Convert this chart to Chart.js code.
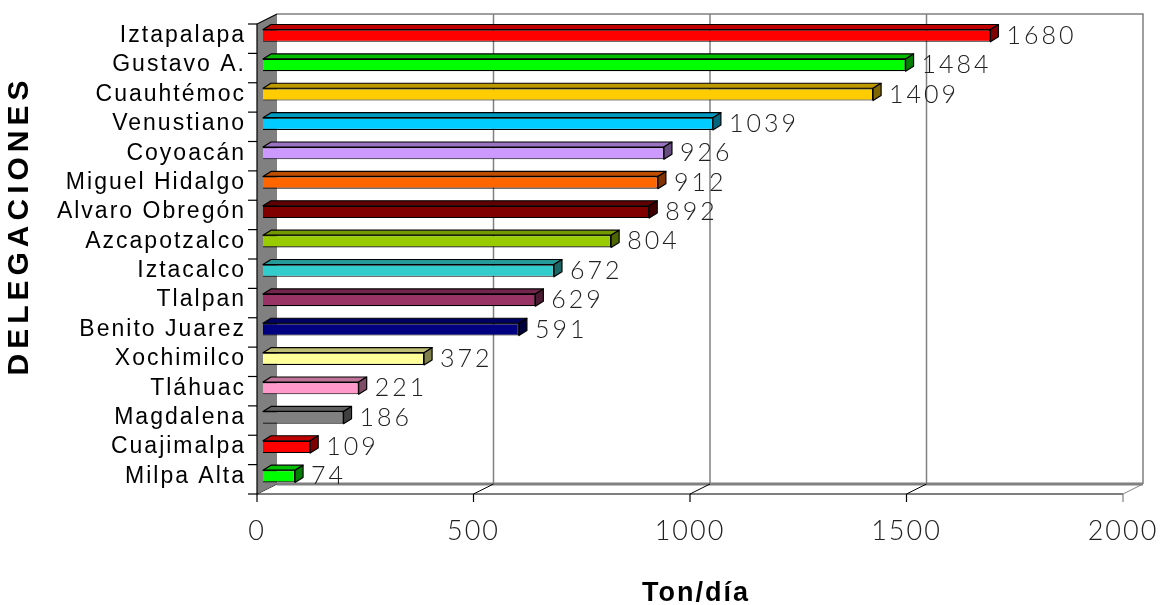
<!DOCTYPE html>
<html>
<head>
<meta charset="utf-8">
<script src="https://cdn.jsdelivr.net/npm/chart.js@4.4.1/dist/chart.umd.min.js"></script>
<style>
html,body{margin:0;padding:0;background:#fff;}
#wrap{width:1165px;height:605px;position:relative;}
</style>
</head>
<body>
<div id="wrap"><canvas id="c"></canvas></div>
<script>
const categories = ['Iztapalapa','Gustavo A.','Cuauhtémoc','Venustiano','Coyoacán','Miguel Hidalgo','Alvaro Obregón','Azcapotzalco','Iztacalco','Tlalpan','Benito Juarez','Xochimilco','Tláhuac','Magdalena','Cuajimalpa','Milpa Alta'];
const values = [1680,1484,1409,1039,926,912,892,804,672,629,591,372,221,186,109,74];
const barColors = ['#FF0000','#00FF00','#FFCC00','#00CCFF','#CC99FF','#FF6600','#800000','#99CC00','#33CCCC','#993366','#000080','#FFFF99','#FF99CC','#808080','#FF0000','#00FF00'];
const xTicks = [0,500,1000,1500,2000];
const xTitle = 'Ton/día';
const yTitle = 'DELEGACIONES';

function shade(hex, f){
  const n = parseInt(hex.slice(1),16);
  const r = Math.round(((n>>16)&255)*f), g = Math.round(((n>>8)&255)*f), b = Math.round((n&255)*f);
  return 'rgb('+r+','+g+','+b+')';
}

const BK = {dx:14, dy:-7};   // back plane offset
const FR = {dx:-6, dy:3};    // front plane offset
const D3 = {dx:8, dy:-5};    // bar depth

const spacingPlugin = {
  id:'spacing',
  beforeDraw(chart){ chart.ctx.letterSpacing = '2px'; }
};

const wallsPlugin = {
  id:'walls',
  beforeDatasetsDraw(chart){
    const ctx = chart.ctx, xs = chart.scales.x, ca = chart.chartArea;
    const top = ca.top, bot = ca.bottom;
    const X = v => xs.getPixelForValue(v);
    const x0 = X(xTicks[0]), xN = X(xTicks[xTicks.length-1]);
    ctx.save();
    ctx.letterSpacing = '0px';
    ctx.strokeStyle = '#808080';
    ctx.lineWidth = 1.5;
    xTicks.slice(1, -1).forEach(v => {
      ctx.beginPath();
      ctx.moveTo(X(v)+BK.dx, top+BK.dy);
      ctx.lineTo(X(v)+BK.dx, bot+BK.dy);
      ctx.stroke();
    });
    ctx.beginPath();
    ctx.moveTo(x0+BK.dx, top+BK.dy);
    ctx.lineTo(xN+BK.dx, top+BK.dy);
    ctx.lineTo(xN+BK.dx, bot+BK.dy);
    ctx.stroke();
    ctx.lineWidth = 3;
    ctx.beginPath();
    ctx.moveTo(x0+BK.dx, bot+BK.dy);
    ctx.lineTo(xN+BK.dx, bot+BK.dy);
    ctx.stroke();
    ctx.lineWidth = 1;
    xTicks.forEach((v,i) => {
      ctx.strokeStyle = i === xTicks.length-1 ? '#808080' : '#000';
      ctx.beginPath();
      ctx.moveTo(X(v)+FR.dx, bot+FR.dy);
      ctx.lineTo(X(v)+BK.dx, bot+BK.dy);
      ctx.stroke();
    });
    ctx.fillStyle = '#808080';
    ctx.beginPath();
    ctx.moveTo(x0+FR.dx, top+FR.dy);
    ctx.lineTo(x0+BK.dx, top+BK.dy);
    ctx.lineTo(x0+BK.dx, bot+BK.dy);
    ctx.lineTo(x0+FR.dx, bot+FR.dy);
    ctx.closePath();
    ctx.fill();
    ctx.strokeStyle = '#000';
    ctx.lineWidth = 1.2;
    ctx.beginPath();
    ctx.moveTo(x0+BK.dx, top+BK.dy);
    ctx.lineTo(x0+FR.dx, top+FR.dy);
    ctx.lineTo(x0+FR.dx, bot+FR.dy);
    ctx.lineTo(xN+FR.dx, bot+FR.dy);
    ctx.stroke();
    xTicks.forEach((v,i) => {
      ctx.strokeStyle = i === xTicks.length-1 ? '#808080' : '#000';
      ctx.beginPath();
      ctx.moveTo(X(v)+FR.dx, bot+FR.dy);
      ctx.lineTo(X(v)+FR.dx, bot+FR.dy+8);
      ctx.stroke();
    });
    ctx.strokeStyle = '#000';
    const band = (bot-top)/categories.length;
    for (let k = 0; k <= categories.length; k++){
      const y = top + k*band + FR.dy;
      ctx.beginPath();
      ctx.moveTo(x0+FR.dx-9, y);
      ctx.lineTo(x0+FR.dx, y);
      ctx.stroke();
    }
    ctx.save();
    ctx.translate(20, 228);
    ctx.rotate(-Math.PI/2);
    ctx.font = 'bold 30px "Liberation Sans", Arial, sans-serif';
    ctx.letterSpacing = '5px';
    ctx.fillStyle = '#000';
    ctx.textAlign = 'center';
    ctx.textBaseline = 'middle';
    ctx.fillText(yTitle, 2.5, 0);
    ctx.restore();
    ctx.restore();
  },
  afterDatasetsDraw(chart){
    const ctx = chart.ctx;
    const meta = chart.getDatasetMeta(0);
    ctx.save();
    ctx.lineWidth = 1.2;
    ctx.strokeStyle = '#000';
    ctx.lineJoin = 'round';
    meta.data.forEach((el, i) => {
      const p = el.getProps(['x','y','base','height'], true);
      const yT = p.y - p.height/2, yB = p.y + p.height/2;
      const c = barColors[i];
      ctx.fillStyle = shade(c, 0.75);
      ctx.beginPath();
      ctx.moveTo(p.base, yT);
      ctx.lineTo(p.x, yT);
      ctx.lineTo(p.x+D3.dx, yT+D3.dy);
      ctx.lineTo(p.base+D3.dx, yT+D3.dy);
      ctx.closePath();
      ctx.fill(); ctx.stroke();
      ctx.fillStyle = shade(c, 0.5);
      ctx.beginPath();
      ctx.moveTo(p.x, yT);
      ctx.lineTo(p.x+D3.dx, yT+D3.dy);
      ctx.lineTo(p.x+D3.dx, yB+D3.dy);
      ctx.lineTo(p.x, yB);
      ctx.closePath();
      ctx.fill(); ctx.stroke();
      ctx.font = '300 25px Lato, "Open Sans", sans-serif';
      ctx.letterSpacing = '3px';
      ctx.fillStyle = '#222';
      ctx.textAlign = 'left';
      ctx.textBaseline = 'middle';
      ctx.fillText(String(values[i]), p.x + D3.dx + 8, p.y);
    });
    ctx.restore();
  }
};

new Chart(document.getElementById('c'), {
  type: 'bar',
  data: {
    labels: categories,
    datasets: [{
      data: values,
      backgroundColor: barColors,
      borderColor: '#000',
      borderWidth: 1.2,
      barPercentage: 0.42,
      categoryPercentage: 1
    }]
  },
  options: {
    indexAxis: 'y',
    responsive: true,
    maintainAspectRatio: false,
    animation: false,
    events: [],
    layout: { padding: { top: 21, right: 36, left: 0, bottom: 0 } },
    plugins: { legend: { display: false }, tooltip: { enabled: false } },
    scales: {
      x: {
        min: 0, max: 2000,
        afterBuildTicks(scale){ scale.ticks = xTicks.map(v => ({value: v})); },
        afterFit(scale){ scale.height = 114; scale.paddingLeft = 0; scale.paddingRight = 0; },
        grid: { display: false, drawTicks: false },
        border: { display: false },
        ticks: {
          padding: 24,
          labelOffset: -6,
          color: '#222',
          callback: v => String(v),
          font: { family: 'Lato, "Open Sans", sans-serif', size: 27, weight: 300 }
        },
        title: {
          display: true,
          text: xTitle,
          color: '#000',
          padding: { top: 0, bottom: 0 },
          font: { family: '"Liberation Sans", Arial, sans-serif', size: 27, weight: 'bold', lineHeight: 0.85 }
        }
      },
      y: {
        afterFit(scale){ scale.width = 263; scale.paddingTop = 0; scale.paddingBottom = 0; },
        grid: { display: false, drawTicks: false },
        border: { display: false },
        ticks: {
          padding: 17,
          color: '#000',
          autoSkip: false,
          font: { family: '"Liberation Sans", Arial, sans-serif', size: 23 }
        }
      }
    }
  },
  plugins: [spacingPlugin, wallsPlugin]
});
</script>
</body>
</html>
